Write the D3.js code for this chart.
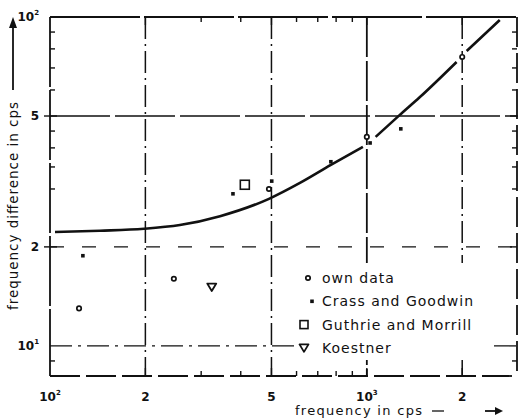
<!DOCTYPE html>
<html><head><meta charset="utf-8">
<script src="https://cdn.jsdelivr.net/npm/d3@7"></script>
<style>
body{margin:0;background:#fff;}
svg{display:block;}
text{font-family:"DejaVu Sans",sans-serif;fill:#111;}
</style></head>
<body>
<svg id="c" width="519" height="420"></svg>
<script>
// ---- data ----
const curveFreq = [103.7,143.8,198,257,344,491,615,770,972,null,1066,1271,1468,1920,null,2066,2628];
const curveDiff = [22.2,22.4,22.7,23.3,24.8,28.0,31.3,35.5,40.3,null,43.2,50.4,57.0,73.0,null,78.8,97.9];
const ownFreq = [123.5,246,491,1000,2000];
const ownDiff = [13.0,16.0,30.0,43.2,75.6];
const crassFreq = [127,378,501,770,1024,1280];
const crassDiff = [18.8,29.0,31.7,36.3,41.4,45.7];
const guthrieFreq = [412];
const guthrieDiff = [30.9];
const koestnerFreq = [324];
const koestnerDiff = [15.1];
const xGrid = [200,500,1000,2000];
const yGrid = [10,20,50];
const xMinor = [300,400,600,700,800,900];
const yMinor = [9,30,35,40,45,60,70,80,90];
const xTickVals = [100,200,500,1000,2000];
const xTickLabels = [["10","2"],["2",""],["5",""],["10","3"],["2",""]];
const yTickVals = [10,20,50,100];
const yTickLabels = [["10","1"],["2",""],["5",""],["10","2"]];
const legendNames = ["own data","Crass and Goodwin","Guthrie and Morrill","Koestner"];

const svg = d3.select("#c");
const x = d3.scaleLog().domain([100,3000]).range([50,518]);
const y = d3.scaleLog().domain([8.1,100]).range([376,17]);
const [x0,x1] = x.range(); const [y0,y1] = y.range();

// gridlines
const gx = svg.append("g").attr("stroke","#111").attr("fill","none");
const vStyles = {200:"22,5,2,5",500:"22,5,2,5",1000:"40,4",2000:"22,5,2,5"};
xGrid.forEach(v=>{
  gx.append("line").attr("x1",x(v)).attr("x2",x(v)).attr("y1",y1).attr("y2",y0)
    .attr("stroke-width",v===1000?1.8:1.5).attr("stroke-dasharray",vStyles[v]);
});
const hStyles = {10:"22,6,3,6",20:"14,18",50:"60,5"};
yGrid.forEach(v=>{
  gx.append("line").attr("x1",x0).attr("x2",x1).attr("y1",y(v)).attr("y2",y(v))
    .attr("stroke-width",v===50?1.6:1.3).attr("stroke-dasharray",hStyles[v]);
});

// frame
const fr = svg.append("g").attr("stroke","#111").attr("stroke-width",1.8).attr("fill","none");
fr.append("line").attr("x1",x0).attr("x2",x0).attr("y1",y1).attr("y2",y0).attr("stroke-dasharray","70,3");
fr.append("line").attr("x1",x0).attr("x2",x1).attr("y1",y1).attr("y2",y1).attr("stroke-dasharray","90,4");
fr.append("line").attr("x1",x0).attr("x2",x1).attr("y1",y0).attr("y2",y0).attr("stroke-dasharray","30,6");
fr.append("line").attr("x1",x1-1).attr("x2",x1-1).attr("y1",y1).attr("y2",y0).attr("stroke-dasharray","30,6");

// ticks
const tk = svg.append("g").attr("stroke","#111").attr("stroke-width",1.4);
xMinor.concat(xGrid).forEach(v=>{
  const L = xGrid.includes(v)?8:5;
  tk.append("line").attr("x1",x(v)).attr("x2",x(v)).attr("y1",y0).attr("y2",y0-L);
  tk.append("line").attr("x1",x(v)).attr("x2",x(v)).attr("y1",y1).attr("y2",y1+L);
});
yMinor.concat([20,50]).forEach(v=>{
  const L = [20,50].includes(v)?7:5;
  tk.append("line").attr("x1",x0).attr("x2",x0+L).attr("y1",y(v)).attr("y2",y(v));
  tk.append("line").attr("x1",x1-1).attr("x2",x1-1-L).attr("y1",y(v)).attr("y2",y(v));
});
[20,50].forEach(v=>{
  tk.append("line").attr("x1",x0-6).attr("x2",x0).attr("y1",y(v)).attr("y2",y(v));
});

// legend backdrop (hides gridlines behind the key)
svg.append("rect").attr("x",296).attr("y",263).attr("width",192).attr("height",97).attr("fill","#fff");

// curve
const line = d3.line().defined(d=>d[0]!=null)
  .x(d=>x(d[0])).y(d=>y(d[1])).curve(d3.curveMonotoneX);
svg.append("path").datum(curveFreq.map((f,i)=>[f,curveDiff[i]]))
  .attr("d",line).attr("fill","none").attr("stroke","#111").attr("stroke-width",2.6);

// markers
const mk = svg.append("g");
function own(g,cx,cy){g.append("circle").attr("cx",cx).attr("cy",cy).attr("r",2.2).attr("fill","#fff").attr("stroke","#111").attr("stroke-width",1.7);}
function crass(g,cx,cy){g.append("rect").attr("x",cx-1.8).attr("y",cy-1.8).attr("width",3.6).attr("height",3.6).attr("fill","#111");}
function guth(g,cx,cy,s){g.append("rect").attr("x",cx-s/2).attr("y",cy-s/2).attr("width",s).attr("height",s).attr("fill","#fff").attr("stroke","#111").attr("stroke-width",1.6);}
function koes(g,cx,cy){g.append("path").attr("d",`M${cx-4.5},${cy-3.5}L${cx+4.5},${cy-3.5}L${cx},${cy+4}Z`).attr("fill","#fff").attr("stroke","#111").attr("stroke-width",1.8).attr("stroke-linejoin","round");}
ownFreq.forEach((f,i)=>own(mk,x(f),y(ownDiff[i])));
crassFreq.forEach((f,i)=>crass(mk,x(f),y(crassDiff[i])));
guthrieFreq.forEach((f,i)=>guth(mk,x(f),y(guthrieDiff[i]),9));
koestnerFreq.forEach((f,i)=>koes(mk,x(f),y(koestnerDiff[i])));

// legend
const lg = svg.append("g");
const lx = 308, ly0 = 278, ldy = 23.3;
legendNames.forEach((n,i)=>{
  const cy = ly0 + i*ldy;
  if(i===0) own(lg,lx,cy);
  if(i===1) crass(lg,lx+4,cy);
  if(i===2) guth(lg,lx-4,cy,8);
  if(i===3) koes(lg,lx-4,cy);
  lg.append("text").attr("x",lx+14).attr("y",cy+5).attr("font-size",14).attr("letter-spacing",1.0).text(n);
});

// tick labels
const tl = svg.append("g").attr("font-weight","bold");
xTickVals.forEach((v,i)=>{
  const t = tl.append("text").attr("x",x(v)).attr("y",401).attr("text-anchor","middle").attr("font-size",12);
  t.append("tspan").text(xTickLabels[i][0]);
  if(xTickLabels[i][1]) t.append("tspan").attr("dy",-6).attr("font-size",7).text(xTickLabels[i][1]);
});
yTickVals.forEach((v,i)=>{
  const t = tl.append("text").attr("x",39).attr("y",y(v)+4).attr("text-anchor","end").attr("font-size",12);
  t.append("tspan").text(yTickLabels[i][0]);
  if(yTickLabels[i][1]) t.append("tspan").attr("dy",-6).attr("font-size",7).text(yTickLabels[i][1]);
});

// axis titles
svg.append("text").attr("x",295).attr("y",415).attr("font-size",13)
  .attr("textLength",127).attr("lengthAdjust","spacing").text("frequency in cps");
svg.append("line").attr("x1",432).attr("x2",444).attr("y1",411).attr("y2",411).attr("stroke","#111").attr("stroke-width",1.3);
svg.append("line").attr("x1",485).attr("x2",496).attr("y1",411).attr("y2",411).attr("stroke","#111").attr("stroke-width",1.8);
svg.append("path").attr("d","M495,407L503,411L495,415Z").attr("fill","#111");

svg.append("text").attr("transform","translate(18,310) rotate(-90)")
  .attr("font-size",13.5).attr("textLength",208).attr("lengthAdjust","spacing")
  .text("frequency difference in cps");
svg.append("line").attr("x1",13).attr("x2",13).attr("y1",90).attr("y2",26).attr("stroke","#111").attr("stroke-width",1.8);
svg.append("path").attr("d","M9,28L13,17L17,28Z").attr("fill","#111");
</script>
</body></html>
